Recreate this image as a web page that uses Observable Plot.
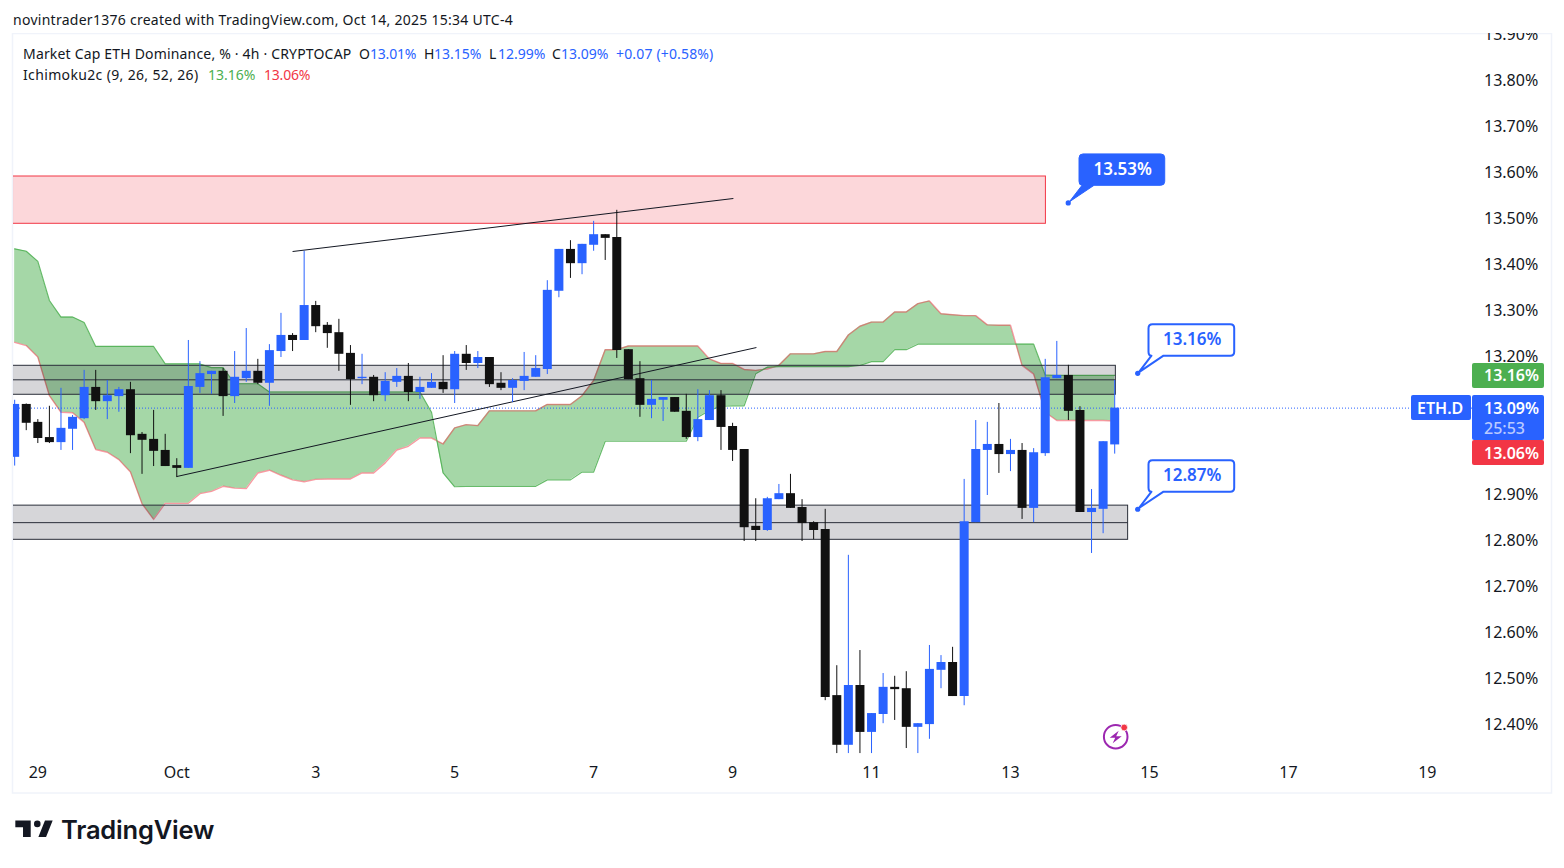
<!DOCTYPE html>
<html>
<head>
<meta charset="utf-8">
<script src="https://cdn.jsdelivr.net/npm/d3@7"></script>
<script src="https://cdn.jsdelivr.net/npm/@observablehq/plot@0.6"></script>
<style>
  html,body{margin:0;padding:0;background:#fff;overflow:hidden;width:1564px;height:868px;font-family:"Noto Sans",sans-serif;color:#131722}
  #hdr{height:33px;line-height:39px;padding-left:13px;font-size:14px;letter-spacing:.27px;white-space:nowrap}
  #ftr{height:74px;position:relative}
  #ftr svg{position:absolute;left:15px;top:20px}
  #ftr span{position:absolute;left:61px;top:18px;font:600 25.5px/36px Inter,sans-serif;letter-spacing:-.2px}
  #chart svg{display:block}
</style>
</head>
<body>
<div id="hdr">novintrader1376 created with TradingView.com, Oct 14, 2025 15:34 UTC-4</div>
<div id="chart"></div>
<div id="ftr"><svg width="38" height="28" viewBox="0 0 34 25.5"><path fill="#131722" d="M14 6H0v6h7v9h7V6Zm14 15h-7l6-15h7l-6 15Z"/><circle fill="#131722" cx="20" cy="9" r="3"/></svg><span>TradingView</span></div>
<script>
// 4h candles; index 0 = Oct 1 00:00, first candle is index -14
const firstIndex = -14;
const opens = [
 12.983,13.098,13.059,13.026,13.015,13.044,13.067,13.135,13.104,13.115,
 13.130,13.033,13.022,12.998,12.965,12.959,13.135,13.163,13.170,13.115,
 13.154,13.170,13.144,13.213,13.248,13.237,13.313,13.270,13.254,13.209,
 13.154,13.157,13.117,13.146,13.159,13.124,13.133,13.146,13.130,13.207,
 13.187,13.200,13.144,13.133,13.148,13.157,13.174,13.344,13.435,13.404,
 13.444,13.467,13.461,13.217,13.154,13.096,13.107,13.113,13.083,13.026,
 13.063,13.117,13.050,13.000,12.833,12.824,12.891,12.904,12.874,12.841,
 12.826,12.465,12.357,12.487,12.385,12.424,12.483,12.480,12.396,12.402,
 12.520,12.537,12.463,12.841,12.998,13.011,12.989,12.998,12.872,12.991,
 13.154,13.161,13.085,12.863,12.870,13.01];
const highs = [
 13.107,13.099,13.065,13.094,13.133,13.074,13.172,13.172,13.150,13.135,
 13.146,13.037,13.085,13.033,12.980,13.237,13.191,13.170,13.176,13.213,
 13.263,13.196,13.228,13.296,13.252,13.431,13.322,13.276,13.283,13.226,
 13.207,13.161,13.167,13.176,13.187,13.157,13.165,13.204,13.213,13.226,
 13.213,13.200,13.167,13.154,13.211,13.204,13.367,13.435,13.454,13.446,
 13.496,13.467,13.520,13.217,13.191,13.150,13.113,13.113,13.120,13.130,
 13.128,13.128,13.057,13.000,12.893,12.896,12.924,12.946,12.891,12.843,
 12.870,12.530,12.770,12.563,12.426,12.513,12.507,12.517,12.404,12.574,
 12.552,12.570,12.935,13.063,13.059,13.100,13.022,13.013,13.002,13.196,
 13.235,13.183,13.093,12.913,13.017,13.15];
const lows = [
 12.964,13.041,13.013,13.013,12.998,12.998,13.065,13.085,13.065,13.081,
 12.991,12.946,12.963,12.963,12.939,12.959,13.122,13.120,13.072,13.100,
 13.146,13.141,13.094,13.200,13.213,13.237,13.254,13.220,13.170,13.096,
 13.141,13.104,13.104,13.135,13.104,13.109,13.133,13.122,13.100,13.172,
 13.176,13.135,13.128,13.102,13.128,13.157,13.163,13.330,13.372,13.380,
 13.431,13.411,13.198,13.152,13.070,13.067,13.061,13.081,13.022,13.017,
 13.063,12.998,12.974,12.800,12.800,12.822,12.891,12.872,12.800,12.804,
 12.454,12.339,12.339,12.339,12.339,12.404,12.411,12.350,12.339,12.370,
 12.480,12.463,12.443,12.841,12.900,12.948,12.952,12.848,12.841,12.985,
 13.154,13.063,12.863,12.774,12.817,12.99];
const closes = [
 13.098,13.057,13.024,13.015,13.046,13.070,13.135,13.104,13.117,13.130,
 13.030,13.020,12.996,12.963,12.959,13.137,13.165,13.170,13.115,13.157,
 13.170,13.144,13.215,13.248,13.237,13.313,13.267,13.252,13.207,13.152,
 13.157,13.117,13.148,13.159,13.124,13.135,13.146,13.130,13.207,13.187,
 13.200,13.141,13.133,13.150,13.159,13.176,13.346,13.435,13.404,13.446,
 13.467,13.459,13.215,13.152,13.096,13.109,13.113,13.081,13.026,13.065,
 13.117,13.048,12.998,12.830,12.824,12.893,12.904,12.872,12.839,12.824,
 12.461,12.357,12.487,12.385,12.426,12.483,12.478,12.396,12.404,12.522,
 12.537,12.463,12.843,13.000,13.011,12.989,12.998,12.872,12.993,13.156,
 13.161,13.083,12.863,12.872,13.017,13.09];
const cloudGreen = [
 13.436,13.431,13.409,13.324,13.288,13.288,13.276,13.224,13.224,13.224,
 13.224,13.224,13.224,13.186,13.186,13.186,13.186,13.178,13.178,13.143,
 13.143,13.143,13.125,13.125,13.125,13.125,13.125,13.125,13.125,13.125,
 13.125,13.125,13.125,13.125,13.125,13.125,13.081,12.949,12.919,12.920,
 12.920,12.920,12.920,12.920,12.920,12.920,12.934,12.934,12.934,12.951,
 12.951,13.018,13.018,13.018,13.018,13.018,13.018,13.018,13.018,13.070,
 13.085,13.094,13.095,13.095,13.165,13.179,13.180,13.180,13.180,13.180,
 13.180,13.180,13.180,13.183,13.191,13.191,13.217,13.217,13.229,13.229,
 13.229,13.229,13.229,13.229,13.229,13.229,13.229,13.229,13.229,13.162,
 13.161,13.161,13.161,13.161,13.161,13.161];
const cloudRed = [
 13.233,13.226,13.201,13.117,13.081,13.080,13.059,13.000,12.994,12.978,
 12.951,12.882,12.848,12.883,12.883,12.883,12.904,12.909,12.920,12.916,
 12.915,12.949,12.955,12.944,12.934,12.930,12.935,12.936,12.936,12.936,
 12.949,12.949,12.971,12.999,13.007,13.025,13.025,13.012,13.047,13.054,
 13.052,13.084,13.084,13.084,13.084,13.084,13.098,13.098,13.098,13.117,
 13.150,13.217,13.217,13.225,13.225,13.225,13.225,13.225,13.225,13.225,
 13.197,13.187,13.187,13.174,13.172,13.175,13.183,13.208,13.208,13.208,
 13.213,13.213,13.249,13.268,13.277,13.277,13.299,13.299,13.317,13.323,
 13.295,13.293,13.291,13.291,13.271,13.270,13.270,13.183,13.164,13.081,
 13.063,13.063,13.063,13.063,13.063,13.062];

// Zones: left index, right index, top price, bottom price, midline price
const zoneLeft = -16, zoneRights = [81.1, 82.16];
const zoneTops = [13.182, 12.878], zoneMids = [13.1515, 12.841], zoneBottoms = [13.119, 12.8037];
const redZoneRight = 75.06, redZoneTop = 13.5935, redZoneBottom = 13.4907;
// Trendlines
const trendX1 = [10, 0], trendY1 = [13.4304, 12.9413], trendX2 = [48.07, 50.06], trendY2 = [13.5457, 13.2217];
// Callouts
const calloutLabels = ["13.53%", "13.16%", "12.87%"];
const calloutX = [77.03, 83.03, 83.03];
const calloutY = [13.535, 13.1646, 12.869];
const calloutFilled = [true, false, false];
// Axes
const priceTicks = [12.4,12.5,12.6,12.7,12.8,12.9,13.2,13.3,13.4,13.5,13.6,13.7,13.8,13.9];
const timeTicks = [-12,0,12,24,36,48,60,72,84,96,108];
const timeLabels = ["29","Oct","3","5","7","9","11","13","15","17","19"];
const lastPrice = 13.09, spanA = 13.16, spanB = 13.06;

const BLUE = "#2962ff", BLACK = "#111111", GREEN = "#4caf50", RED = "#f23645";
const FONT = '"Noto Sans", sans-serif';

const candles = opens.map((o,k)=>({i:firstIndex+k,o,h:highs[k],l:lows[k],c:closes[k],col:closes[k]>=o?BLUE:BLACK}));
const cloud = cloudGreen.map((g,k)=>({i:firstIndex+k,g,r:cloudRed[k]}));
const zones = zoneTops.map((t,k)=>({x1:zoneLeft,x2:zoneRights[k],t,m:zoneMids[k],b:zoneBottoms[k]}));
const trends = trendX1.map((x1,k)=>({x1,y1:trendY1[k],x2:trendX2[k],y2:trendY2[k]}));
const callouts = calloutLabels.map((label,k)=>({label,x:calloutX[k],y:calloutY[k],filled:calloutFilled[k]}));
const tickText = new Map(timeTicks.map((t,k)=>[t,timeLabels[k]]));

const NS = "http://www.w3.org/2000/svg";
function el(name, attrs, text){
  const e = document.createElementNS(NS,name);
  for(const k in attrs) e.setAttribute(k,attrs[k]);
  if(text!=null) e.textContent = text;
  return e;
}

// Chart frame
const frameMark = () => {
  const g = el("g",{});
  g.appendChild(el("rect",{x:12.5,y:.5,width:1539,height:759.5,fill:"none",stroke:"#f0f3fa","stroke-width":1.5}));
  return g;
};
// Callouts, anchored on their price point
const calloutMark = (index,{x,y}) => {
  const g = el("g",{"font-family":FONT});
  for(const c of callouts){
    const px=x(c.x), py=y(c.y);
    const L=px+10.8,R=px+96.5,T=py-49,B=py-17.6,r=4;
    const d=`M${L+r},${T}H${R-r}Q${R},${T} ${R},${T+r}V${B-r}Q${R},${B} ${R-r},${B}H${L+15}L${px+1},${py-1}L${L+3},${B}Q${L},${B} ${L},${B-r}V${T+r}Q${L},${T} ${L+r},${T}Z`;
    g.appendChild(el("path",{d,fill:c.filled?BLUE:"#fff",stroke:BLUE,"stroke-width":c.filled?1:2,"stroke-linejoin":"round"}));
    g.appendChild(el("circle",{cx:px,cy:py,r:2.6,fill:BLUE}));
    g.appendChild(el("text",{x:px+54.5,y:py-34.5,"text-anchor":"middle","dominant-baseline":"central","font-size":17,"font-weight":600,fill:c.filled?"#fff":BLUE},c.label));
  }
  return g;
};
// Price-scale tags
const tagMark = (index,{y}) => {
  const g = el("g",{"font-family":FONT,"font-size":16,"text-anchor":"start"});
  const text=(x,yy,s,fill,w)=>g.appendChild(el("text",{x,y:yy,fill,"dominant-baseline":"central","font-weight":w||600},s));
  const a=y(spanA), l=y(lastPrice);
  g.appendChild(el("rect",{x:1472,y:a-12.5,width:72,height:25,rx:2,fill:GREEN}));
  text(1484,a,spanA.toFixed(2)+"%","#fff");
  g.appendChild(el("rect",{x:1472,y:l-12.5,width:72,height:45,rx:2,fill:BLUE}));
  text(1484,l,lastPrice.toFixed(2)+"%","#fff");
  text(1484,l+20,"25:53","#b9caff",500);
  g.appendChild(el("rect",{x:1472,y:l+32.5,width:72,height:25,rx:2,fill:RED}));
  text(1484,l+45,spanB.toFixed(2)+"%","#fff");
  g.appendChild(el("rect",{x:1411,y:l-12.5,width:60,height:25,rx:2,fill:BLUE}));
  text(1417,l,"ETH.D","#fff");
  return g;
};
// Legend overlay
const legendTop = [
  ["Market Cap ETH Dominance, % · 4h · CRYPTOCAP",23,"#131722",.18],
  ["O",359,"#131722",0],["13.01%",370,BLUE,-.2],["H",424,"#131722",0],["13.15%",434,BLUE,0],
  ["L",489,"#131722",0],["12.99%",498,BLUE,0],["C",552,"#131722",0],["13.09%",561,BLUE,0],["+0.07 (+0.58%)",616,BLUE,.16]];
const legendBottom = [["Ichimoku2c (9, 26, 52, 26)",23,"#131722",.35],["13.16%",208,GREEN,0],["13.06%",264,RED,-.2]];
const legendMark = () => {
  const g = el("g",{"font-family":FONT,"font-size":14,"text-anchor":"start"});
  const add=(row,yy)=>row.forEach(([s,x,fill,ls])=>g.appendChild(el("text",{x,y:yy,fill,"letter-spacing":ls,"dominant-baseline":"central"},s)));
  add(legendTop,20);
  add(legendBottom,41);
  return g;
};
// Lightning badge
const badgeMark = () => {
  const g = el("g",{transform:"translate(1115.7,703.7)"});
  g.appendChild(el("circle",{r:11.8,fill:"none",stroke:"#9c27b0","stroke-width":2}));
  g.appendChild(el("circle",{cx:8.5,cy:-9.2,r:3.4,fill:RED,stroke:"#fff","stroke-width":.8}));
  g.appendChild(el("path",{d:"M3 -6L-6 1H-.5L-3 6.5L6 -.5H.5Z",fill:"#9c27b0"}));
  return g;
};

const chart = Plot.plot({
  width:1564, height:761,
  marginLeft:13, marginRight:92, marginTop:1, marginBottom:32,
  style:{fontFamily:FONT, background:"#fff", color:"#131722"},
  x:{domain:[-14.1,111.9], axis:null},
  y:{domain:[12.3196,13.9022], axis:null},
  marks:[
    frameMark,
    Plot.axisY(priceTicks,{anchor:"right",tickSize:0,tickPadding:11.5,fontSize:16,tickFormat:d=>d.toFixed(2)+"%",label:null,fill:"#131722",dy:-.5}),
    Plot.axisX(timeTicks,{anchor:"bottom",tickSize:0,tickPadding:4.5,fontSize:16,tickFormat:d=>tickText.get(d),label:null,fill:"#131722"}),
    Plot.rect([0],{x1:zoneLeft,x2:redZoneRight,y1:redZoneBottom,y2:redZoneTop,fill:RED,fillOpacity:.2,stroke:RED,strokeWidth:1,clip:true}),
    Plot.areaY(cloud,{x:"i",y1:"g",y2:"r",fill:GREEN,fillOpacity:.5,curve:"linear",clip:true}),
    Plot.line(cloud,{x:"i",y:"r",stroke:RED,strokeOpacity:.5,strokeWidth:1.4,clip:true}),
    Plot.line(cloud,{x:"i",y:"g",stroke:GREEN,strokeOpacity:.85,strokeWidth:1.2,clip:true}),
    Plot.rect(zones,{x1:"x1",x2:"x2",y1:"b",y2:"t",fill:"#0a0a20",fillOpacity:.17,stroke:"#2a2e39",strokeWidth:1,clip:true}),
    Plot.ruleY(zones,{x1:"x1",x2:"x2",y:"m",stroke:"#2a2e39",strokeWidth:1,clip:true}),
    Plot.ruleY([lastPrice],{x1:-14.1,x2:111.9,stroke:BLUE,strokeWidth:1,strokeDasharray:"1 2"}),
    Plot.link(trends,{x1:"x1",y1:"y1",x2:"x2",y2:"y2",stroke:"#131722",strokeWidth:1,clip:true}),
    Plot.ruleX(candles,{x:"i",y1:"l",y2:"h",stroke:"col",strokeWidth:1,clip:true}),
    Plot.ruleX(candles,{x:"i",y1:"o",y2:"c",stroke:"col",strokeWidth:9,clip:true}),
    calloutMark,
    tagMark,
    legendMark,
    badgeMark
  ]
});
document.getElementById("chart").appendChild(chart);
</script>
</body>
</html>
